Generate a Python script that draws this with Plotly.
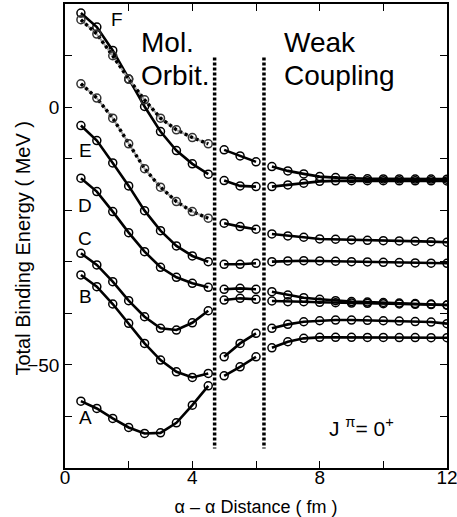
import plotly.graph_objects as go

# ---------------- data ----------------
x_left = [0.5, 1.0, 1.5, 2.0, 2.5, 3.0, 3.5, 4.0, 4.5]
x_mid = [5.0, 5.5, 6.0]
x_right = [6.5, 7.0, 7.5, 8.0, 8.5, 9.0, 9.5, 10.0, 10.5, 11.0, 11.5, 12.0]

# Molecular-orbit region (solid curves)
left_F = [18.25, 15.53, 10.99, 5.44, 0.12, -4.74, -8.43, -11.01, -13.01]
left_E = [-3.57, -6.49, -10.82, -15.28, -20.08, -23.96, -26.93, -28.87, -29.98]
left_D = [-13.79, -16.39, -20.27, -24.35, -28.04, -31.07, -33.01, -34.17, -34.95]
left_C = [-28.35, -30.62, -33.86, -37.55, -40.66, -42.91, -43.24, -41.83, -39.50]
left_B = [-32.56, -34.83, -38.19, -41.94, -45.83, -49.07, -51.34, -52.43, -51.65]
left_A = [-57.03, -58.45, -60.39, -62.14, -63.30, -63.18, -61.24, -57.81, -54.06]
# Molecular-orbit region (dotted / grey curves)
left_dot1 = [16.95, 14.17, 9.96, 5.44, 1.42, -2.14, -4.41, -5.90, -7.13]
left_dot2 = [4.52, 1.75, -2.14, -7.13, -11.94, -15.53, -18.33, -20.27, -21.55]

# Intermediate region
mid_curves = [
    [-8.29, -9.46, -10.62],
    [-14.25, -15.28, -15.42],
    [-22.52, -23.18, -23.69],
    [-30.49, -30.49, -30.29],
    [-35.34, -35.15, -35.34],
    [-37.42, -37.09, -37.28],
    [-48.43, -45.83, -43.88],
    [-52.12, -50.37, -48.43],
]

# Weak-coupling region
right_curves = [
    [-11.53, -12.37, -12.95, -13.48, -13.67, -13.85, -13.90, -13.92, -13.94, -13.95, -13.96, -13.97],
    [-15.42, -15.09, -14.76, -14.40, -14.30, -14.28, -14.28, -14.28, -14.29, -14.30, -14.30, -14.32],
    [-24.60, -24.99, -25.24, -25.57, -25.63, -25.77, -25.83, -25.90, -25.96, -26.02, -26.10, -26.21],
    [-29.98, -29.84, -29.79, -29.84, -29.90, -29.98, -30.04, -30.10, -30.16, -30.23, -30.27, -30.29],
    [-35.81, -36.45, -36.97, -37.28, -37.55, -37.71, -37.81, -37.90, -38.00, -38.10, -38.19, -38.39],
    [-37.61, -37.75, -37.75, -37.86, -37.94, -38.00, -38.06, -38.14, -38.19, -38.25, -38.31, -38.39],
    [-42.91, -42.14, -41.63, -41.44, -41.30, -41.30, -41.36, -41.44, -41.50, -41.59, -41.69, -42.00],
    [-46.68, -45.51, -44.85, -44.66, -44.66, -44.66, -44.68, -44.68, -44.70, -44.70, -44.72, -44.73],
]

# region boundaries (dotted vertical lines)
boundary_x = [4.7, 6.25]
boundary_y = [9.6, -66.2]

# curve labels
label_text = ["F", "E", "D", "C", "B", "A"]
label_x = [1.63, 0.63, 0.63, 0.63, 0.63, 0.63]
label_y = [16.95, -8.5, -19.0, -25.4, -36.8, -60.3]

# labelled ticks and unlabelled (minor) ticks
x_tickvals = [0, 4, 8, 12]
x_ticktext = ["0", "4", "8", "12"]
x_minor_vals = [2, 6, 10]
y_tickvals = [-50, 0]
y_ticktext = ["\u221250", "0"]
y_minor_vals = [-70, -60, -40, -30, -20, -10, 10, 20]

FONT = "Liberation Sans, Arial, Helvetica, sans-serif"

fig = go.Figure()


def solid(xs, ys):
    fig.add_trace(go.Scatter(
        x=xs, y=ys, mode="lines+markers",
        line=dict(color="black", width=2.6),
        marker=dict(symbol="circle-open", size=8, color="black", line=dict(width=1.5)),
        showlegend=False, hoverinfo="skip"))


def dotted(xs, ys):
    fig.add_trace(go.Scatter(
        x=xs, y=ys, mode="lines",
        line=dict(color="#a0a0a0", width=2),
        showlegend=False, hoverinfo="skip"))
    fig.add_trace(go.Scatter(
        x=xs, y=ys, mode="lines+markers",
        line=dict(color="black", width=3.4, dash="3px,3px"),
        marker=dict(symbol="circle-open", size=8, color="#333333", line=dict(width=1.5)),
        showlegend=False, hoverinfo="skip"))


for ys in [left_F, left_E, left_D, left_C, left_B, left_A]:
    solid(x_left, ys)
dotted(x_left, left_dot1)
dotted(x_left, left_dot2)
for ys in mid_curves:
    solid(x_mid, ys)
for ys in right_curves:
    solid(x_right, ys)

for bx in boundary_x:
    fig.add_trace(go.Scatter(
        x=[bx, bx], y=boundary_y, mode="lines",
        line=dict(color="black", width=3.5, dash="3px,2px"),
        showlegend=False, hoverinfo="skip"))

for t, lx, ly in zip(label_text, label_x, label_y):
    fig.add_annotation(x=lx, y=ly, text=t, showarrow=False,
                       font=dict(size=19, family=FONT, color="black"),
                       xanchor="center", yanchor="middle")

big = dict(size=28, family=FONT, color="black")
fig.add_annotation(x=2.33, y=12.6, text="Mol.", showarrow=False, font=big, xanchor="left", yanchor="middle")
fig.add_annotation(x=2.33, y=6.1, text="Orbit.", showarrow=False, font=big, xanchor="left", yanchor="middle")
fig.add_annotation(x=6.82, y=12.6, text="Weak", showarrow=False, font=big, xanchor="left", yanchor="middle")
fig.add_annotation(x=6.82, y=6.1, text="Coupling", showarrow=False, font=big, xanchor="left", yanchor="middle")
fig.add_annotation(x=8.22, y=-62.0, text="J <sup>\u03c0</sup>= 0<sup>+</sup>", showarrow=False,
                   font=dict(size=21, family=FONT, color="black"), xanchor="left", yanchor="middle")

# y-axis title placed as a rotated annotation
fig.add_annotation(xref="paper", yref="paper", x=-0.11, y=0.475, text="Total Binding Energy ( MeV )",
                   textangle=-90, showarrow=False, xanchor="center", yanchor="middle",
                   font=dict(size=20, family=FONT, color="black"))

axis_common = dict(
    showline=True, linecolor="black", linewidth=1.5, mirror="allticks",
    ticks="inside", ticklen=7, tickwidth=1.2, tickcolor="black",
    showgrid=False, zeroline=False,
    tickfont=dict(size=19, family=FONT, color="black"),
)

fig.update_xaxes(range=[0, 12], tickmode="array", tickvals=x_tickvals, ticktext=x_ticktext,
                 minor=dict(tickmode="array", tickvals=x_minor_vals, ticks="inside", ticklen=7,
                            tickwidth=1.2, tickcolor="black", showgrid=False),
                 ticklabeloverflow="allow", ticklabelstandoff=-9,
                 title=dict(text="\u03b1 \u2013 \u03b1 Distance ( fm )", font=dict(size=18, family=FONT, color="black"), standoff=20),
                 **axis_common)
fig.update_yaxes(range=[-70, 20], tickmode="array", tickvals=y_tickvals, ticktext=y_ticktext,
                 minor=dict(tickmode="array", tickvals=y_minor_vals, ticks="inside", ticklen=7,
                            tickwidth=1.2, tickcolor="black", showgrid=False),
                 **axis_common)

fig.update_layout(
    width=457, height=517,
    margin=dict(l=65, r=10, t=4, b=49, autoexpand=False),
    paper_bgcolor="white", plot_bgcolor="white",
    font=dict(family=FONT, color="black"),
)

fig.write_html("out.html")
